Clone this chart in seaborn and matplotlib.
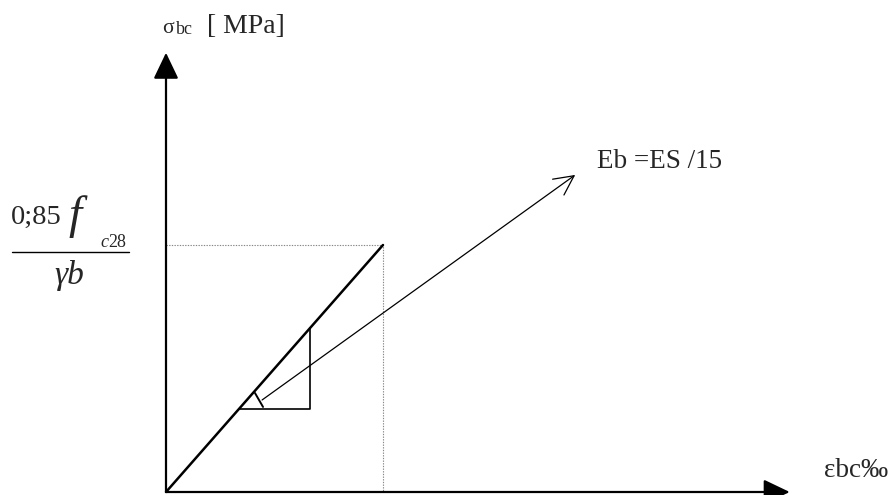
import matplotlib
matplotlib.use("Agg")
import matplotlib.pyplot as plt
import seaborn as sns
import pandas as pd

sns.set_theme(style="white")
plt.rcParams["font.family"] = ["Liberation Serif", "DejaVu Serif"]

# Elastic stress-strain law of concrete (strain in permille, stress in MPa)
strain = [0.0, 3.5]
stress = [0.0, 14.17]

# Slope triangle drawn on the elastic branch
tri_strain = [1.18, 2.32, 2.32]
tri_stress = [4.76, 4.76, 9.39]

# Angle mark and the pointer towards the modulus label
tick_strain = [1.435, 1.565]
tick_stress = [5.68, 4.88]
pointer_start = (1.55, 5.28)
pointer_end = (6.60, 18.19)

# Axis extents
axis_x_end = 10.06
axis_y_end = 25.2

W, H = 889, 495
fig = plt.figure(figsize=(W / 100, H / 100), dpi=100)
ax = fig.add_axes([0, 0, 1, 1])
ax.set_axis_off()

# pixel scale of the drawing: origin at (166, 492) px from the top-left
sx, sy = 62.0, 247.0 / 14.17
ox, oy = 166.0, 492.0
ax.set_xlim(-ox / sx, (W - ox) / sx)
ax.set_ylim(-(H - oy) / sy, oy / sy)


def fpos(x, y):
    return x / W, 1 - y / H


def path(xs, ys, **kw):
    df = pd.DataFrame({"e": xs, "s": ys})
    sns.lineplot(data=df, x="e", y="s", ax=ax, sort=False, estimator=None,
                 errorbar=None, color="black", **kw)


# axes with filled arrowheads
head = "-|>,head_length=1.15,head_width=0.55"
ax.annotate("", xy=(0, axis_y_end), xytext=(0, 0),
            arrowprops=dict(arrowstyle=head, lw=1.6, color="black",
                            shrinkA=0, shrinkB=0, mutation_scale=14))
ax.annotate("", xy=(axis_x_end, 0), xytext=(0, 0),
            arrowprops=dict(arrowstyle=head, lw=1.6, color="black",
                            shrinkA=0, shrinkB=0, mutation_scale=14))

# dotted guides to the peak point
ax.plot([0, strain[1], strain[1]], [stress[1], stress[1], 0],
        color="#888888", lw=0.8, linestyle=(0, (1.2, 1.2)))

# elastic branch
path(strain, stress, lw=1.8)

# slope triangle
path(tri_strain, tri_stress, lw=1.2)

# angle mark
path(tick_strain, tick_stress, lw=1.4)

# pointer with open arrowhead
ax.annotate("", xy=pointer_end, xytext=pointer_start,
            arrowprops=dict(arrowstyle="->,head_length=1.0,head_width=0.5",
                            lw=0.9, color="black", shrinkA=0, shrinkB=0,
                            mutation_scale=14))

ax.set_xlabel("")
ax.set_ylabel("")

# axis titles
fig.text(*fpos(162, 33), "σ", fontsize=15.5, va="baseline", ha="left")
fig.text(*fpos(176, 34), "bc", fontsize=13, va="baseline", ha="left")
fig.text(*fpos(207, 33), "[ MPa]", fontsize=20, va="baseline", ha="left")
fig.text(*fpos(824, 477), "εbc‰", fontsize=19.5, va="baseline", ha="left")

# modulus label
fig.text(*fpos(597, 168), "Eb =ES /15", fontsize=19.5, va="baseline",
         ha="left")

# peak stress label as a fraction
fig.text(*fpos(11, 224), "0;85", fontsize=20.5, va="baseline", ha="left")
fig.text(*fpos(68, 228), "f", fontsize=34, va="baseline", ha="left",
         style="italic")
fig.text(*fpos(100, 247), "c", fontsize=13, va="baseline", ha="left",
         style="italic")
fig.text(*fpos(108, 247), "28", fontsize=13, va="baseline", ha="left")
fig.add_artist(plt.Line2D([12 / W, 129 / W], [1 - 252 / H, 1 - 252 / H],
                          color="black", lw=1.0))
fig.text(*fpos(54, 284), "γb", fontsize=24, va="baseline", ha="left",
         style="italic")

fig.savefig("out.png", dpi=100)
